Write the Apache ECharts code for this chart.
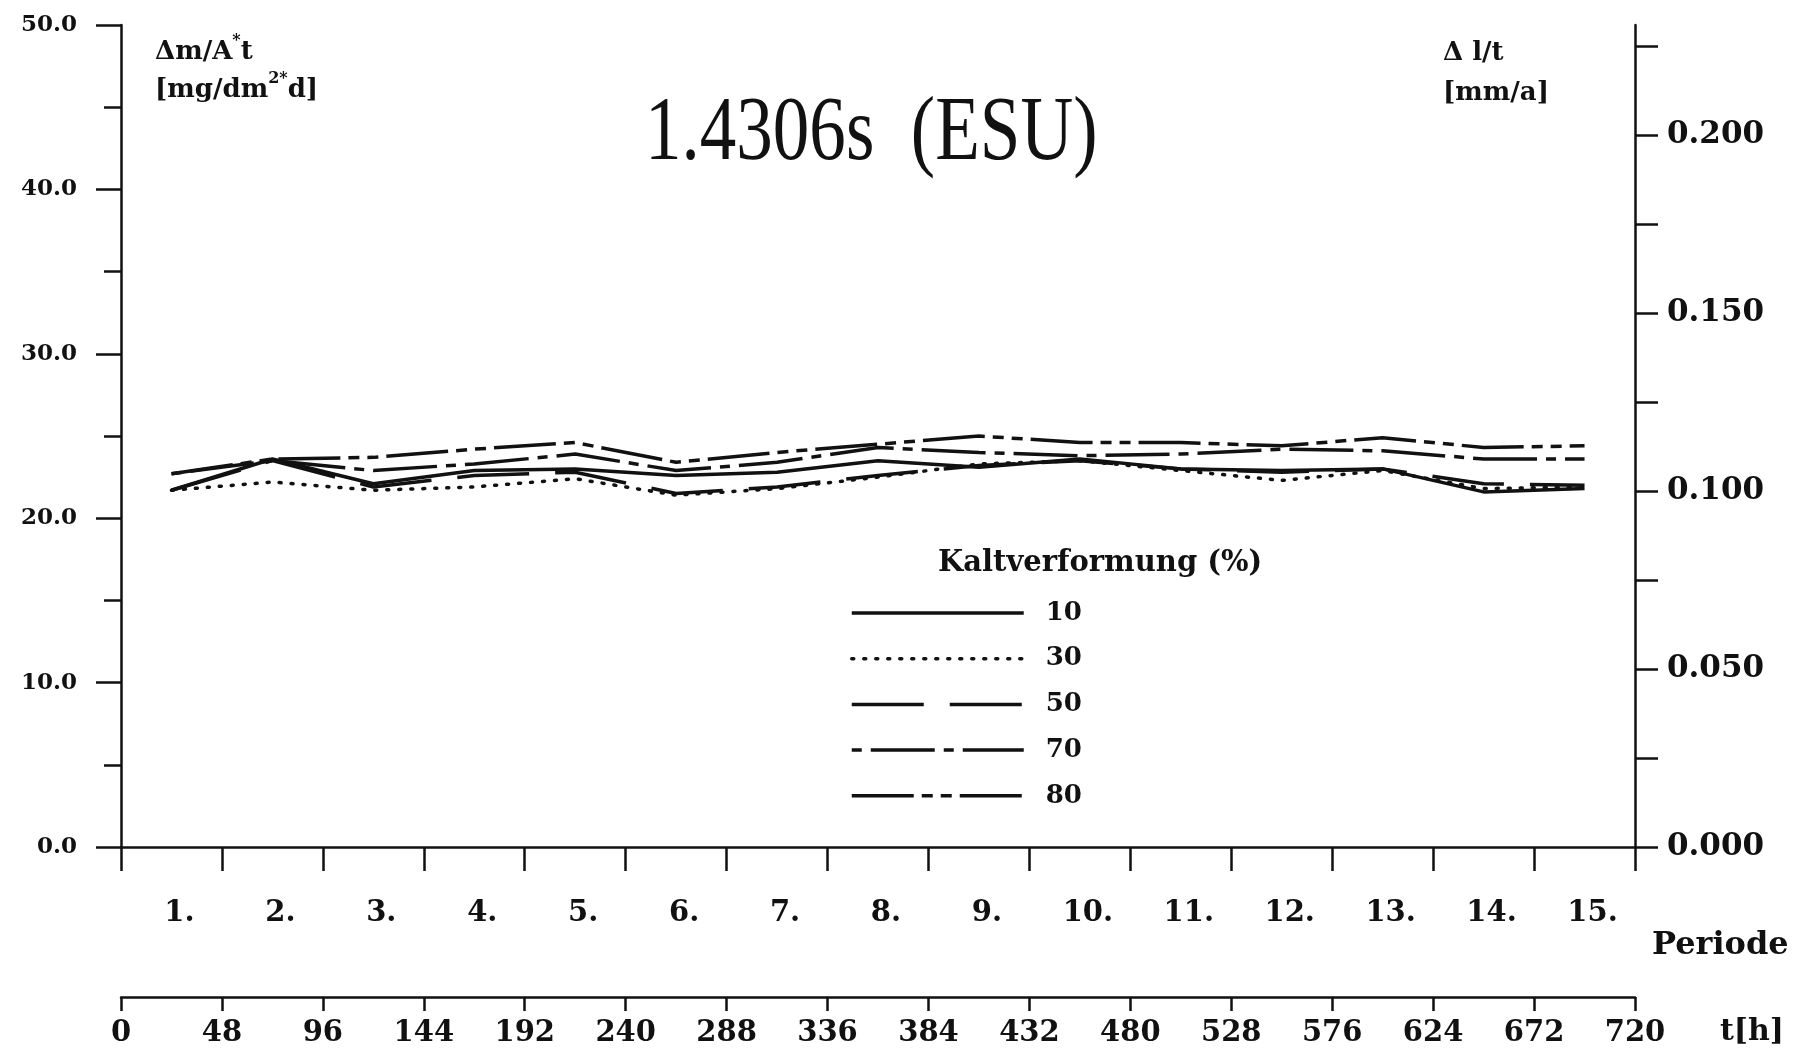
<!DOCTYPE html>
<html>
<head>
<meta charset="utf-8">
<title>1.4306s (ESU)</title>
<script src="https://cdn.jsdelivr.net/npm/echarts@6/dist/echarts.min.js"></script>
<style>
  html, body { margin: 0; padding: 0; background: #ffffff; }
  #chart { width: 1814px; height: 1051px; }
</style>
</head>
<body>
<div id="chart"></div>
<script>
// Test periods (48 h each) and corrosion rate per cold-work level, mg/dm²·d
const periods = ['1.', '2.', '3.', '4.', '5.', '6.', '7.', '8.', '9.', '10.', '11.', '12.', '13.', '14.', '15.'];
const kv10 = [21.7, 23.6, 22.1, 22.9, 23.0, 22.6, 22.8, 23.5, 23.1, 23.6, 23.0, 22.9, 23.0, 21.6, 21.8];
const kv30 = [21.7, 22.2, 21.7, 21.9, 22.4, 21.4, 21.8, 22.5, 23.3, 23.5, 22.9, 22.3, 22.9, 21.8, 21.9];
const kv50 = [21.7, 23.5, 21.9, 22.6, 22.8, 21.5, 21.9, 22.6, 23.2, 23.5, 23.0, 22.8, 23.0, 22.1, 22.0];
const kv70 = [22.7, 23.5, 22.9, 23.3, 23.9, 22.9, 23.4, 24.3, 24.0, 23.8, 23.9, 24.2, 24.1, 23.6, 23.6];
const kv80 = [22.7, 23.6, 23.7, 24.2, 24.6, 23.4, 24.0, 24.5, 25.0, 24.6, 24.6, 24.4, 24.9, 24.3, 24.4];
const seriesNames = ['10', '30', '50', '70', '80'];

// Right-hand scale: 50 mg/dm²·d expressed as thickness loss in mm/a (density 7.9 g/cm³)
const rateMax = 0.231;
const rateTicks = [0, 0.025, 0.05, 0.075, 0.1, 0.125, 0.15, 0.175, 0.2, 0.225];
const rateLabels = [0, 0.05, 0.1, 0.15, 0.2];

const SERIF = '"DejaVu Serif", "Liberation Serif", serif';
const INK = '#111111';
const NONE = 'rgba(0,0,0,0)';
const axisLine = { show: true, onZero: false, lineStyle: { color: INK, width: 2.5 } };
const tickStyle = { color: INK, width: 2.5 };

const lineStyles = {
  '10': { type: 'solid' },
  '30': { type: [2, 10], cap: 'round' },
  '50': { type: [72, 26] },
  '70': { type: [10, 9, 64, 9] },
  '80': { type: [62, 8, 11, 8, 11, 8] }
};
const values = { '10': kv10, '30': kv30, '50': kv50, '70': kv70, '80': kv80 };

const chart = echarts.init(document.getElementById('chart'), null, { renderer: 'canvas' });

chart.setOption({
  animation: false,
  backgroundColor: '#ffffff',
  grid: { left: 121, right: 179, top: 25, bottom: 204, containLabel: false, outerBoundsMode: 'none' },
  xAxis: [
    {
      type: 'category',
      data: periods,
      boundaryGap: true,
      position: 'bottom',
      axisLine: axisLine,
      axisTick: { show: true, length: 24, lineStyle: tickStyle },
      axisLabel: { margin: 52, fontFamily: SERIF, fontWeight: 'bold', fontSize: 29, color: INK, padding: [0, 0, 0, 16] },
      splitLine: { show: false }
    },
    {
      type: 'value',
      min: 0,
      max: 720,
      interval: 48,
      position: 'bottom',
      offset: 150,
      axisLine: axisLine,
      axisTick: { show: true, length: 14, lineStyle: tickStyle },
      axisLabel: { margin: 22, fontFamily: SERIF, fontWeight: 'bold', fontSize: 29, color: INK, showMinLabel: true, showMaxLabel: true },
      splitLine: { show: false }
    }
  ],
  yAxis: [
    {
      type: 'value',
      min: 0,
      max: 50,
      interval: 10,
      position: 'left',
      axisLine: axisLine,
      axisTick: { show: true, length: 25, lineStyle: tickStyle },
      minorTick: { show: true, splitNumber: 2, length: 17, lineStyle: tickStyle },
      axisLabel: { margin: 44, fontFamily: SERIF, fontWeight: 'bold', fontSize: 23, color: INK, formatter: v => v.toFixed(1) },
      splitLine: { show: false }
    },
    {
      type: 'value',
      min: 0,
      max: rateMax,
      position: 'right',
      axisLine: axisLine,
      axisTick: { show: true, length: 23, lineStyle: tickStyle, customValues: rateTicks },
      axisLabel: { margin: 32, fontFamily: SERIF, fontWeight: 'bold', fontSize: 31, color: INK, customValues: rateLabels, formatter: v => v.toFixed(3) },
      splitLine: { show: false }
    }
  ],
  legend: {
    orient: 'vertical',
    left: 845,
    top: 593,
    itemWidth: 172,
    itemHeight: 14,
    itemGap: 15.7,
    data: seriesNames,
    itemStyle: { color: NONE, borderColor: NONE, borderWidth: 0 },
    lineStyle: { width: 3.5 },
    textStyle: { fontFamily: SERIF, fontWeight: 'bold', fontSize: 26, color: INK, lineHeight: 30, padding: [0, 0, 0, 17] }
  },
  series: seriesNames.map(name => ({
    type: 'line',
    name: name,
    data: values[name],
    xAxisIndex: 0,
    yAxisIndex: 0,
    symbol: 'none',
    lineStyle: Object.assign({ color: INK, width: 3.5 }, lineStyles[name]),
    itemStyle: { color: NONE }
  })),
  graphic: [
    {
      type: 'text', x: 645, y: 135, scaleX: 0.794,
      style: { text: '1.4306s  (ESU)', fontFamily: '"Liberation Serif", serif', fontSize: 92, fill: INK, align: 'left', verticalAlign: 'middle' }
    },
    {
      type: 'text', x: 938, y: 563,
      style: { text: 'Kaltverformung (%)', fontFamily: SERIF, fontWeight: 'bold', fontSize: 29, fill: INK, align: 'left', verticalAlign: 'middle' }
    },
    {
      type: 'text', x: 155, y: 33,
      style: {
        text: '{b|Δm/A}{s|*}{b|t}\n{b|[mg/dm}{s|2*}{b|d]}',
        fill: INK,
        rich: {
          b: { fontFamily: SERIF, fontWeight: 'bold', fontSize: 26, lineHeight: 38, fill: INK },
          s: { fontFamily: SERIF, fontWeight: 'bold', fontSize: 16, lineHeight: 38, verticalAlign: 'top', fill: INK }
        }
      }
    },
    {
      type: 'text', x: 1443, y: 33,
      style: {
        text: 'Δ l/t\n[mm/a]',
        fontFamily: SERIF, fontWeight: 'bold', fontSize: 26, lineHeight: 40, fill: INK
      }
    },
    {
      type: 'text', x: 1652, y: 946,
      style: { text: 'Periode', fontFamily: SERIF, fontWeight: 'bold', fontSize: 32, fill: INK, align: 'left', verticalAlign: 'middle' }
    },
    {
      type: 'text', x: 1720, y: 1032,
      style: { text: 't[h]', fontFamily: SERIF, fontWeight: 'bold', fontSize: 30, fill: INK, align: 'left', verticalAlign: 'middle' }
    }
  ]
});
</script>
</body>
</html>
